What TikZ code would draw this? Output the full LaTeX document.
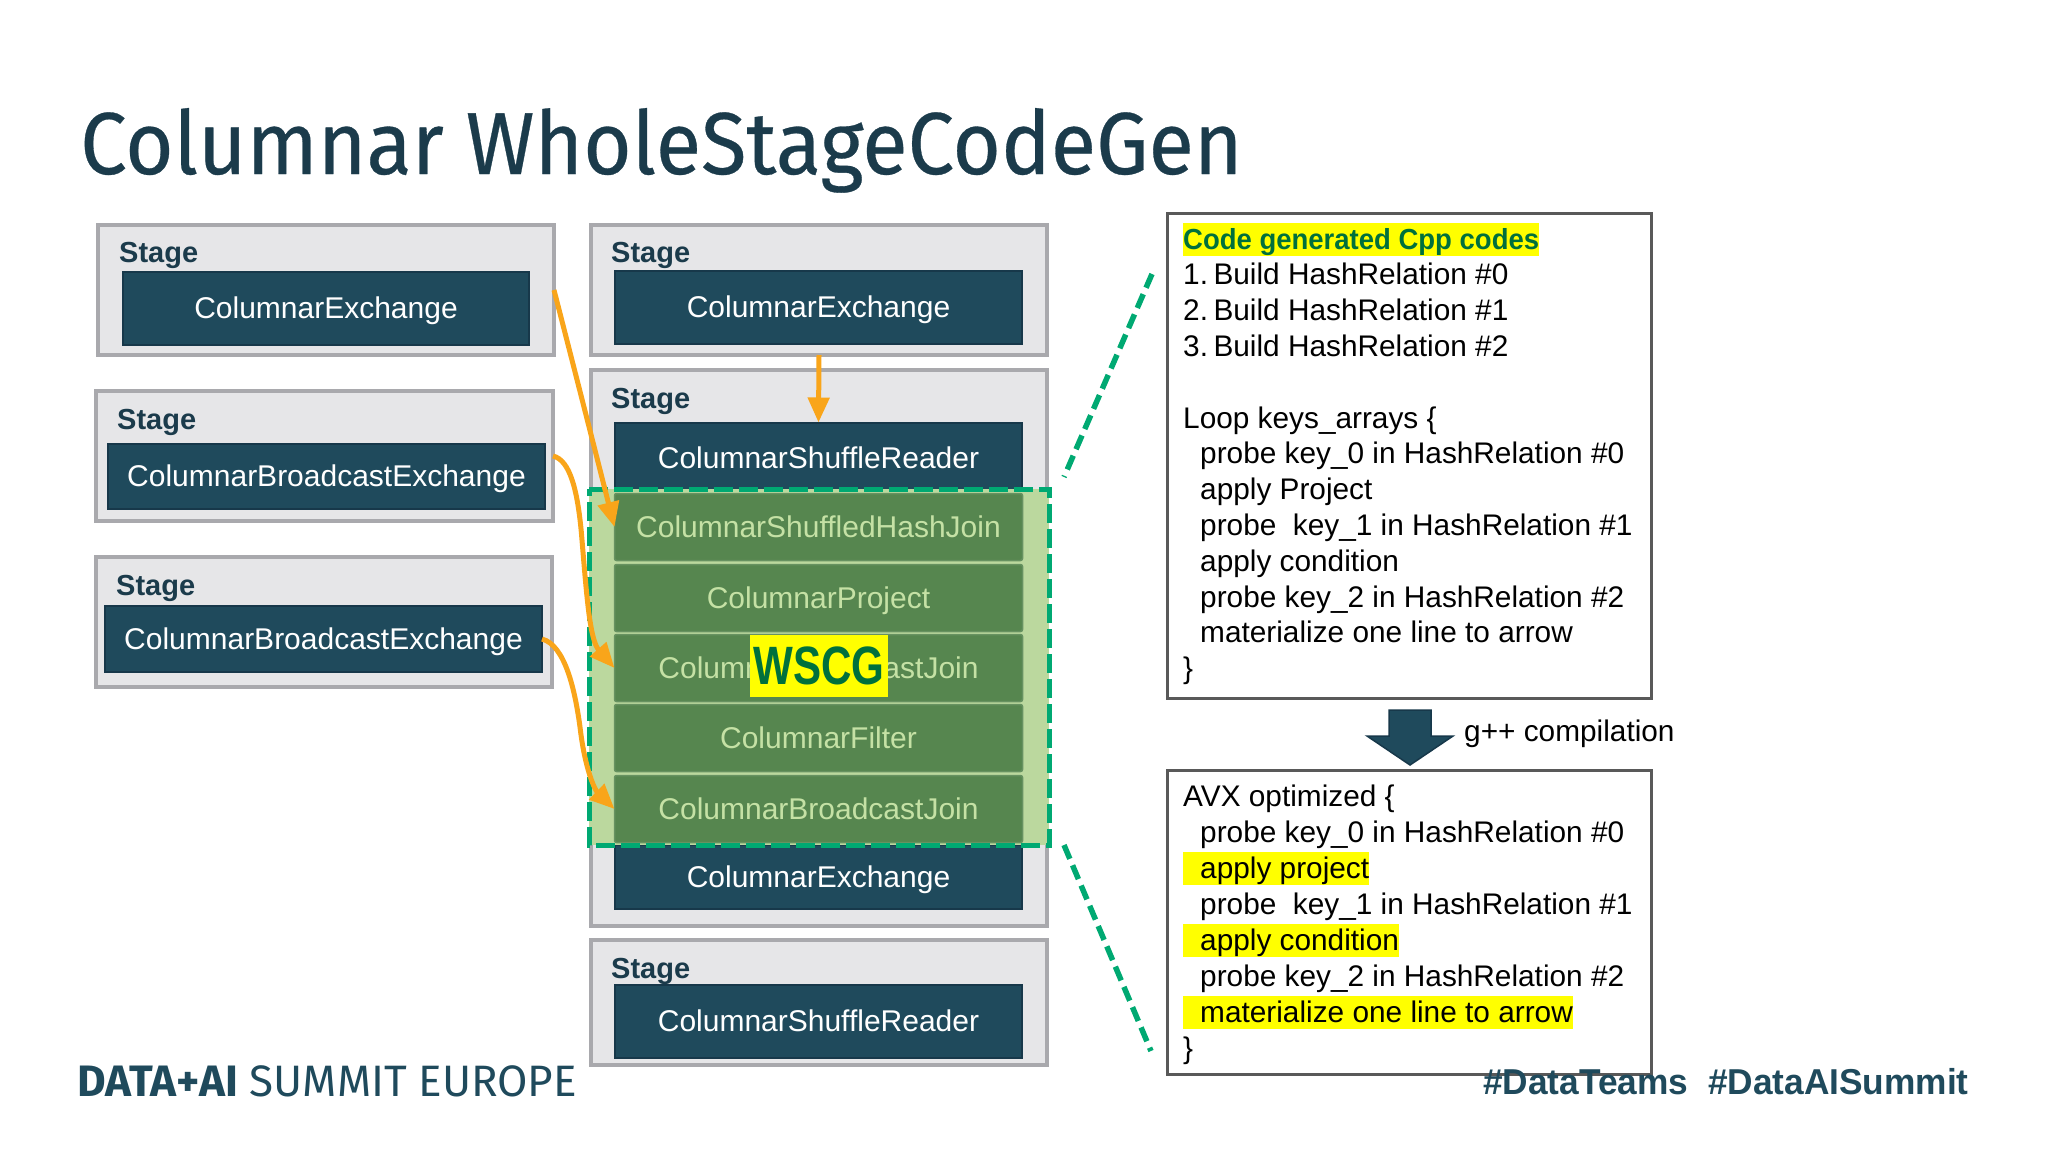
\documentclass[tikz,border=0pt]{standalone}
\usepackage{fontspec}
\usetikzlibrary{arrows.meta}
\setmainfont{Liberation Sans}
\newfontfamily\titlefont{Fira Sans}[FakeBold=0.35]
\newfontfamily\footfont{Fira Sans}
\definecolor{navy}{HTML}{1F4A5C}
\definecolor{navyedge}{HTML}{17384A}
\definecolor{stagefill}{HTML}{E6E6E8}
\definecolor{stageedge}{HTML}{A9A9AD}
\definecolor{orangeline}{HTML}{F9A51A}
\definecolor{wscggreen}{HTML}{00A972}
\definecolor{wscgtext}{HTML}{00703C}
\definecolor{overlay}{HTML}{BBD89E}
\definecolor{rowfill}{HTML}{56864F}
\definecolor{rowtext}{HTML}{C5E1A5}
\definecolor{titlecol}{HTML}{1B3B4B}
\definecolor{hlyellow}{RGB}{255,255,0}
\tikzset{
  stagebox/.style={draw=stageedge,fill=stagefill,line width=4,outer sep=0,inner sep=0},
  stagelabel/.style={anchor=base west,inner sep=0,font=\fontsize{29}{30}\selectfont\bfseries,text=titlecol},
  opbox/.style={draw=navyedge,fill=navy,line width=2,outer sep=0,inner sep=0,text=white,text height=21,text depth=0,font=\fontsize{30}{32}\selectfont},
  rowbox/.style={draw=rowfill!90!white,fill=rowfill,line width=1.5,rounded corners=2,outer sep=0,inner sep=0,text=rowtext,text height=21,text depth=0,font=\fontsize{30}{32}\selectfont,minimum width=408,minimum height=67},
  codeframe/.style={draw=black!65,fill=white,line width=3.5,outer sep=0,inner sep=0},
  codeline/.style={anchor=base west,inner xsep=0,inner ysep=0,text height=26,text depth=7,font=\fontsize{29.8}{32}\selectfont},
  hl/.style={codeline,fill=hlyellow},
  flow/.style={draw=orangeline,line width=5,-{Triangle[length=25,width=21]}},
  zoomline/.style={draw=wscggreen,line width=5.5,dash pattern=on 15 off 7},
  zoomframe/.style={draw=wscggreen,line width=5,dash pattern=on 19 off 6},
}
\begin{document}
\begin{tikzpicture}[x=1pt,y=-1pt]
\useasboundingbox (0,0) rectangle (2048,1152);
\node[anchor=base west,inner sep=0,text=titlecol,font=\titlefont\fontsize{88}{90}\selectfont] (title) at (80,174) {\scalebox{0.945}[1]{Columnar WholeStageCodeGen}};

% left stages
\node[stagebox,minimum width=456,minimum height=130] (s1) at (326,290) {};
\node[stagelabel] (s1l) at (119,262) {Stage};
\node[opbox,minimum width=406,minimum height=73] (s1i) at (326,308) {ColumnarExchange};
\node[stagebox,minimum width=457,minimum height=130] (s2) at (324.5,456) {};
\node[stagelabel] (s2l) at (117,429) {Stage};
\node[opbox,minimum width=437,minimum height=65] (s2i) at (326.5,476) {ColumnarBroadcastExchange};
\node[stagebox,minimum width=456,minimum height=130] (s3) at (324,622) {};
\node[stagelabel] (s3l) at (116,595) {Stage};
\node[opbox,minimum width=437,minimum height=66] (s3i) at (323.5,639) {ColumnarBroadcastExchange};

% middle stages
\node[stagebox,minimum width=456,minimum height=130] (m1) at (819,290) {};
\node[stagelabel] (m1l) at (611,262) {Stage};
\node[opbox,minimum width=407,minimum height=73] (m1i) at (818.5,307) {ColumnarExchange};
\node[stagebox,minimum width=456,minimum height=556] (m2) at (819,648) {};
\node[stagelabel] (m2l) at (611,408) {Stage};
\node[opbox,minimum width=407,minimum height=71] (m2a) at (818.5,458) {ColumnarShuffleReader};
\node[opbox,minimum width=407,minimum height=64] (m2z) at (818.5,877) {ColumnarExchange};
\node[stagebox,minimum width=456,minimum height=125] (m3) at (819,1002) {};
\node[stagelabel] (m3l) at (611,978) {Stage};
\node[opbox,minimum width=407,minimum height=73] (m3i) at (818.5,1021) {ColumnarShuffleReader};

% whole-stage code generation region
\node[fill=overlay,outer sep=0,inner sep=0,minimum width=460,minimum height=356] (wscg) at (819,667) {};
\node[rowbox] (r1) at (818.5,527) {ColumnarShuffledHashJoin};
\node[rowbox] (r2) at (818.5,598) {ColumnarProject};
\node[rowbox] (r3) at (818.5,668) {ColumnarBroadcastJoin};
\node[rowbox] (r4) at (818.5,738) {ColumnarFilter};
\node[rowbox] (r5) at (818.5,809) {ColumnarBroadcastJoin};
\draw[zoomframe] (wscg.north west) -- (wscg.north east) -- (wscg.south east) -- (wscg.south west) -- cycle;
\node[fill=hlyellow,text=wscgtext,inner sep=0,minimum width=138,minimum height=62,font=\fontsize{54}{56}\selectfont\bfseries] (wl) at (819,666) {\scalebox{0.78}[1]{WSCG}};

% flows
\draw[flow] (m1.south) -- (m2a.north);
\draw[flow] (s1.east) .. controls (572,360) and (595,450) .. (r1.west);
\draw[flow] (s2.east) .. controls (570,460) and (578,490) .. (582,540) .. controls (587,600) and (590,640) .. (r3.west);
\draw[flow] (s3i.east) .. controls (565,645) and (575,690) .. (580,727) .. controls (585,770) and (595,790) .. (r5.west);

% code boxes
\node[codeframe,minimum width=484,minimum height=485] (c1) at (1409.5,456) {};
\node[codeframe,minimum width=484,minimum height=304] (c2) at (1409.5,922.5) {};
\coordinate (zt) at (1152,274);
\coordinate (zb) at (1064,477);
\coordinate (zc) at (1064,845);
\coordinate (zd) at (1151,1051);
\draw[zoomline] (zt) -- (zb);
\draw[zoomline] (zc) -- (zd);

\node[hl,text=wscgtext,font=\fontsize{29}{32}\selectfont\bfseries] (h0) at (1183,249) {\scalebox{0.948}[1]{Code generated Cpp codes}};
\node[codeline] (a1) at (1183,284.8) {1.\hspace{5.5pt}Build HashRelation \#0};
\node[codeline] (a2) at (1183,320.6) {2.\hspace{5.5pt}Build HashRelation \#1};
\node[codeline] (a3) at (1183,356.4) {3.\hspace{5.5pt}Build HashRelation \#2};
\node[codeline] (a4) at (1183,428) {Loop keys\_arrays \{};
\node[codeline] (a5) at (1200,463.8) {probe key\_0 in HashRelation \#0};
\node[codeline] (a6) at (1200,499.6) {apply Project};
\node[codeline] (a7) at (1200,535.4) {probe~~key\_1 in HashRelation \#1};
\node[codeline] (a8) at (1200,571.2) {apply condition};
\node[codeline] (a9) at (1200,607) {probe key\_2 in HashRelation \#2};
\node[codeline] (a10) at (1200,642.8) {materialize one line to arrow};
\node[codeline] (a11) at (1183,678.6) {\}};

\fill[fill=navy,draw=navyedge,line width=1.5] (1389,710) -- (1431,710) -- (1431,736) -- (1453,736) -- (1410,765) -- (1367,736) -- (1389,736) -- cycle;
\node[anchor=base west,inner sep=0,font=\fontsize{29.8}{32}\selectfont] (gpp) at (1464,741) {g++ compilation};

\node[codeline] (b1) at (1183,806) {AVX optimized \{};
\node[codeline] (b2) at (1200,842) {probe key\_0 in HashRelation \#0};
\node[hl] (b3) at (1183,878) {\hspace{17pt}apply project};
\node[codeline] (b4) at (1200,914) {probe~~key\_1 in HashRelation \#1};
\node[hl] (b5) at (1183,950) {\hspace{17pt}apply condition};
\node[codeline] (b6) at (1200,986) {probe key\_2 in HashRelation \#2};
\node[hl] (b7) at (1183,1022) {\hspace{17pt}materialize one line to arrow};
\node[codeline] (b8) at (1183,1058) {\}};

% footer
\node[anchor=base west,inner sep=0,text=navy,font=\footfont\fontsize{44}{46}\selectfont] (foot) at (77,1096) {\textbf{DATA+AI} SUMMIT EUROPE};
\node[anchor=base east,inner sep=0,text=navy,font=\fontsize{36}{38}\selectfont\bfseries] (tags) at (1969,1094) {\scalebox{0.98}[1]{\#DataTeams~~\#DataAISummit}};
\end{tikzpicture}
\end{document}
